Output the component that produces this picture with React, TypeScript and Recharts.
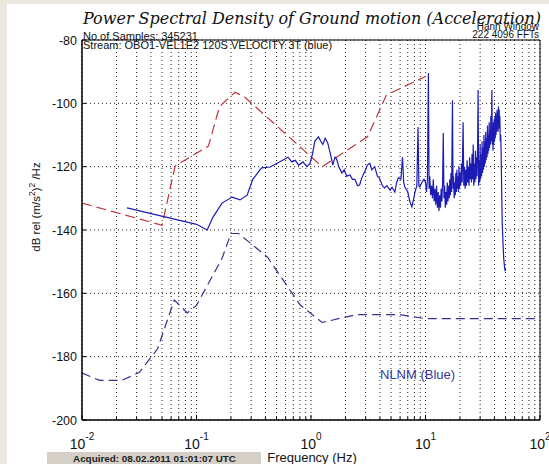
import { LineChart, Line, XAxis, YAxis, CartesianGrid, ReferenceArea } from 'recharts';

// log-frequency grid positions (Hz)
const FREQ_TICKS = [
  0.01, 0.02, 0.03, 0.04, 0.05, 0.06, 0.07, 0.08, 0.09,
  0.1, 0.2, 0.3, 0.4, 0.5, 0.6, 0.7, 0.8, 0.9,
  1, 2, 3, 4, 5, 6, 7, 8, 9,
  10, 20, 30, 40, 50, 60, 70, 80, 90,
  100,
];
const DECADES = [0.01, 0.1, 1, 10, 100];
const DECADE_EXP = ['-2', '-1', '0', '1', '2'];
const DB_TICKS = [-200, -180, -160, -140, -120, -100, -80];

// measured PSD, stream OBO1 (blue) [Hz, dB]
const measured: [number, number][] = [
  [0.0247, -133], [0.1, -138.2], [0.124, -140], [0.139, -136], [0.167, -131.5],
  [0.205, -129.6], [0.24, -130.5], [0.277, -129], [0.31, -124], [0.37, -120.4],
  [0.44, -120.1], [0.53, -118.5], [0.63, -117], [0.68, -118.5], [0.73, -118],
  [0.78, -119.5], [0.85, -118.5], [0.92, -120], [0.98, -119], [1.03, -116],
  [1.08, -112], [1.16, -110.6], [1.22, -112], [1.27, -113], [1.33, -111],
  [1.4, -112.5], [1.5, -117], [1.55, -119.5], [1.62, -117], [1.67, -117.5],
  [1.75, -120], [1.86, -122], [1.95, -121], [2.05, -123], [2.19, -122.6],
  [2.3, -124], [2.42, -124], [2.55, -126], [2.66, -125.8], [2.75, -124],
  [2.85, -122.6], [3.0, -121], [3.1, -119.5], [3.27, -119], [3.4, -121],
  [3.6, -120], [3.8, -123], [3.96, -123.6], [4.2, -126], [4.4, -126.7],
  [4.6, -126], [4.9, -127.4], [5.1, -126.5], [5.4, -128], [5.6, -125],
  [5.8, -123.5], [6.1, -124], [6.3, -117], [6.45, -125], [6.6, -126.4],
  [7.0, -128], [7.3, -131], [7.6, -132.7], [7.9, -130], [8.1, -128],
  [8.4, -126], [8.6, -107.5], [8.75, -126], [8.9, -126.4], [9.3, -125],
  [9.7, -124], [10.0, -125], [10.2, -128], [10.4, -124], [10.6, -90.4],
  [10.75, -127], [10.9, -123], [11.1, -129], [11.3, -126], [11.5, -130],
  [11.7, -124], [11.9, -131], [12.1, -127], [12.3, -132], [12.5, -126],
  [12.7, -133], [12.9, -128], [13.1, -134], [13.3, -129], [13.5, -133],
  [13.7, -127], [13.9, -131], [14.1, -125], [14.3, -109.4], [14.5, -130],
  [14.7, -126], [14.9, -133], [15.1, -128], [15.3, -132], [15.5, -125],
  [15.7, -131], [15.9, -126], [16.1, -130], [16.3, -124], [16.5, -129],
  [16.7, -122], [16.9, -128], [17.2, -99], [17.4, -127], [17.6, -123],
  [17.8, -130], [18.0, -125], [18.2, -129], [18.4, -122], [18.6, -128],
  [18.8, -121], [19.0, -127], [19.2, -123], [19.4, -128], [19.6, -120],
  [19.8, -127], [20.0, -122], [20.3, -126], [20.6, -119], [20.9, -125],
  [21.3, -106], [21.6, -126], [21.9, -120], [22.2, -127], [22.5, -121],
  [22.8, -126], [23.1, -118], [23.4, -125], [23.7, -120], [24.0, -126],
  [24.3, -117], [24.6, -124], [24.9, -119], [25.2, -125], [25.5, -116],
  [25.8, -124], [26.1, -113], [26.4, -126], [26.7, -119], [27.0, -125],
  [27.3, -115], [27.6, -124], [27.9, -117], [28.2, -123], [28.5, -114],
  [28.8, -95.8], [29.1, -126], [29.4, -118], [29.7, -125], [30.0, -113],
  [30.3, -124], [30.6, -116], [30.9, -123], [31.2, -112], [31.5, -122],
  [31.8, -114], [32.1, -121], [32.4, -110], [32.7, -120], [33.0, -112],
  [33.3, -119], [33.6, -109], [33.9, -118], [34.2, -111], [34.5, -117],
  [34.8, -107], [35.1, -116], [35.4, -110], [35.7, -115], [36.0, -106],
  [36.3, -114], [36.6, -109], [36.9, -113], [37.2, -104], [37.6, -112],
  [38.0, -95.8], [38.3, -113], [38.6, -108], [38.9, -115], [39.2, -106],
  [39.5, -113], [39.8, -105], [40.1, -112], [40.4, -104], [40.7, -111],
  [41.0, -103], [41.3, -110], [41.6, -104], [41.9, -109], [42.2, -102],
  [42.5, -108], [42.8, -103], [43.1, -109], [43.4, -101], [43.7, -106],
  [44.0, -102], [44.3, -108], [44.6, -104], [45.0, -112], [45.4, -110],
  [45.8, -116], [46.3, -128], [46.8, -138], [47.5, -144], [48.2, -149],
  [49.0, -151.7], [49.6, -153], [50.0, -152],
];

// Peterson new low noise model (blue dashed)
const nlnm: [number, number][] = [
  [0.01, -185.2], [0.0143, -187.5], [0.0222, -187.5], [0.0316, -185],
  [0.0457, -177.5], [0.064, -162.1], [0.083, -166.2], [0.1, -163.8],
  [0.167, -149], [0.2, -141.1], [0.233, -141.1], [0.417, -148.6],
  [0.806, -163.7], [1.25, -169.2], [2.5, -166.7], [5.9, -166.7],
  [10, -168], [100, -168],
];

// new high noise model (red dashed)
const nhnm: [number, number][] = [
  [0.01, -131.5], [0.05, -138.5], [0.065, -119.8], [0.127, -113.5],
  [0.159, -101], [0.217, -96.5], [0.263, -98], [1.25, -120],
  [3.125, -110.5], [4.55, -97.4], [10, -91.5],
];

const toRows = (pts: [number, number][]) => pts.map(([f, db]) => ({ f, db }));

const SANS = '"Liberation Sans", Arial, sans-serif';

function FreqTick({ x, y, payload }: any) {
  const i = DECADES.indexOf(payload.value);
  const major = i >= 0;
  return (
    <g>
      <line x1={x} x2={x} y1={y} y2={y - (major ? 5 : 3)} stroke="#000" />
      {major && (
        <text x={x} y={y + 29} fontSize={14} fontFamily={SANS} fill="#111" textAnchor="middle">
          10<tspan dy={-9} fontSize={10}>{DECADE_EXP[i]}</tspan>
        </text>
      )}
    </g>
  );
}

function DbTick({ x, y, payload }: any) {
  return (
    <g>
      <line x1={x} x2={x + 4} y1={y} y2={y} stroke="#000" />
      <text x={x - 5} y={y} dy={4.5} fontSize={12.5} fontFamily={SANS} fill="#111" textAnchor="end">
        {payload.value}
      </text>
    </g>
  );
}

function DbTickRight({ x, y }: any) {
  return <line x1={x} x2={x - 4} y1={y} y2={y} stroke="#000" />;
}

export default function App() {
  return (
    <div style={{ position: 'absolute', left: 0, top: 0, width: 549, height: 464, background: '#ebe8df', overflow: 'hidden' }}>
      <div style={{ position: 'absolute', left: 7, top: 4, width: 542, height: 460, background: '#fff' }} />
      <div style={{ position: 'absolute', left: 0, top: 0 }}>
        <LineChart width={549} height={464} margin={{ top: 40, right: 8, bottom: 0, left: 0 }}>
          <CartesianGrid stroke="#222" strokeDasharray="1 3" />
          <XAxis
            dataKey="f"
            type="number"
            scale="log"
            domain={[0.01, 100]}
            allowDataOverflow
            ticks={FREQ_TICKS}
            interval={0}
            height={44}
            tickSize={0}
            tickMargin={0}
            tickLine={false}
            stroke="#000"
            tick={<FreqTick />}
          />
          <YAxis
            type="number"
            domain={[-200, -80]}
            ticks={DB_TICKS}
            interval={0}
            width={82}
            tickSize={0}
            tickMargin={0}
            tickLine={false}
            stroke="#000"
            tick={<DbTick />}
          />
          <YAxis
            yAxisId="r"
            orientation="right"
            type="number"
            domain={[-200, -80]}
            ticks={DB_TICKS}
            interval={0}
            width={1}
            tickSize={0}
            tickMargin={0}
            tickLine={false}
            axisLine={false}
            tick={<DbTickRight />}
          />
          <Line
            data={toRows(nlnm)}
            dataKey="db"
            stroke="#34348e"
            strokeWidth={1.2}
            strokeDasharray="9 5"
            dot={false}
            isAnimationActive={false}
          />
          <Line
            data={toRows(nhnm)}
            dataKey="db"
            stroke="#c0343c"
            strokeWidth={1.2}
            strokeDasharray="10 5"
            dot={false}
            isAnimationActive={false}
          />
          <Line
            data={toRows(measured)}
            dataKey="db"
            stroke="#1c1cb4"
            strokeWidth={1.2}
            dot={false}
            isAnimationActive={false}
          />
          <ReferenceArea x1={0.01} x2={100} y1={-200} y2={-80} fill="none" fillOpacity={0} stroke="#000" strokeWidth={1} />
        </LineChart>
      </div>
      <svg width={549} height={464} style={{ position: 'absolute', left: 0, top: 0, pointerEvents: 'none' }}>
        <text
          x={83}
          y={24}
          fontSize={16.5}
          fontStyle="italic"
          fontFamily='"DejaVu Serif", serif'
          textLength={458}
          lengthAdjust="spacingAndGlyphs"
          fill="#111"
        >
          Power Spectral Density of Ground motion (Acceleration)
        </text>
        <text x={83} y={40} fontSize={11} fontFamily={SANS} fill="#111">No of Samples: 345231</text>
        <text x={83} y={48.5} fontSize={11} fontFamily={SANS} fill="#111">
          Stream: OBO1-VEL1E2 120S VELOCITY 3T  (blue)
        </text>
        <text x={539} y={30} fontSize={10} fontFamily={SANS} fill="#111" textAnchor="end">Hann Window</text>
        <text x={539} y={38} fontSize={10} fontFamily={SANS} fill="#111" textAnchor="end">222 4096 FFTs</text>
        <text x={380} y={379} fontSize={13} fontFamily={SANS} fill="#3535a0">NLNM (Blue)</text>
        <text
          transform="translate(40, 207) rotate(-90)"
          fontSize={11.5}
          fontFamily={SANS}
          fill="#111"
          textAnchor="middle"
        >
          dB rel (m/s<tspan dy={-5} fontSize={8.5}>2</tspan><tspan dy={5}>)</tspan>
          <tspan dy={-5} fontSize={8.5}>2</tspan><tspan dy={5}> /Hz</tspan>
        </text>
        <text x={312} y={462} fontSize={13} fontFamily={SANS} fill="#111" textAnchor="middle">Frequency (Hz)</text>
        <rect x={47} y={452} width={214} height={13} fill="#d4d0c8" />
        <text x={73} y={461.5} fontSize={9.5} fontWeight="bold" fontFamily={SANS} fill="#222" textLength={163} lengthAdjust="spacingAndGlyphs">
          Acquired: 08.02.2011 01:01:07  UTC
        </text>
      </svg>
    </div>
  );
}
